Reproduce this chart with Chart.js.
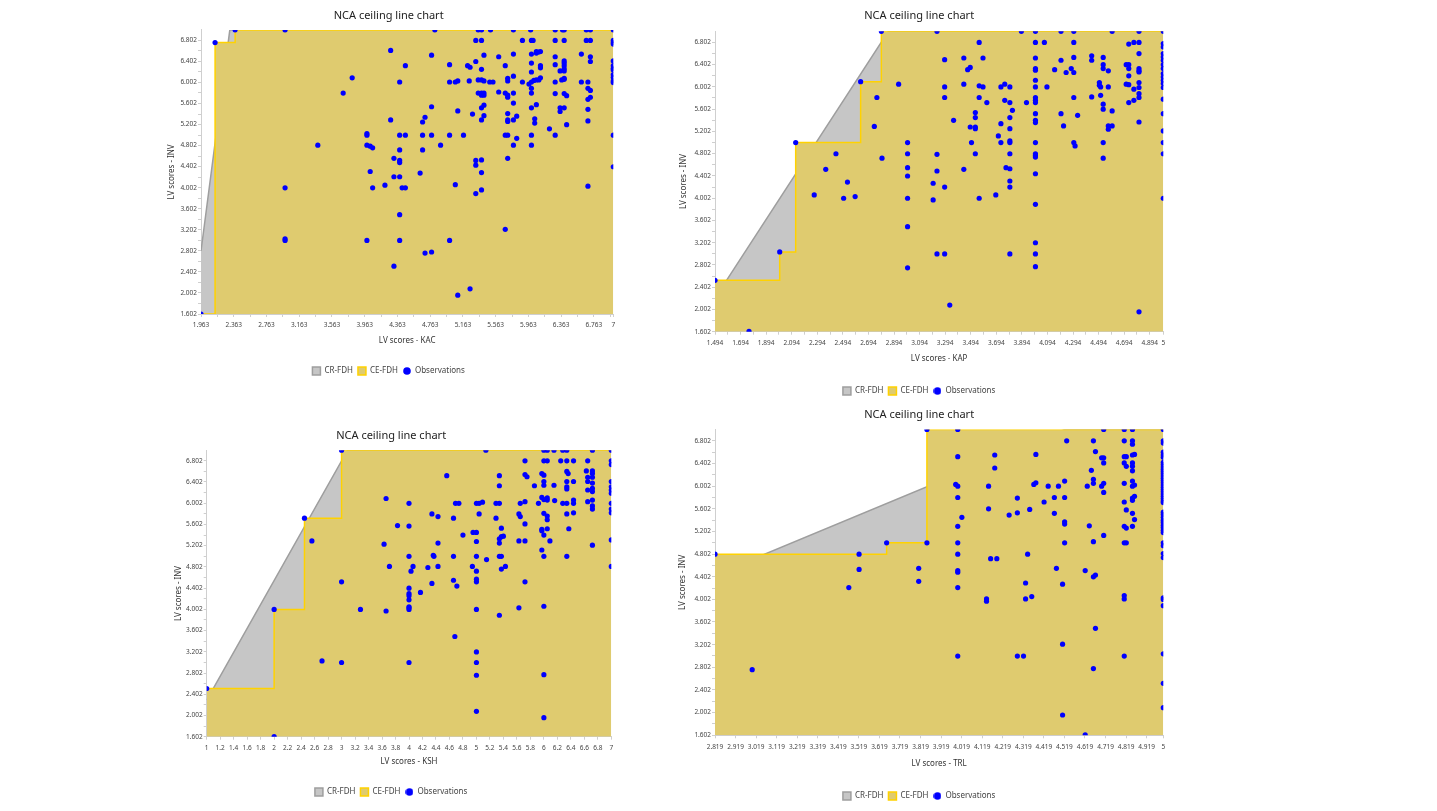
<!DOCTYPE html>
<html>
<head>
<meta charset="utf-8">
<script src="https://cdn.jsdelivr.net/npm/chart.js@4.4.0/dist/chart.umd.min.js"></script>
<style>
  html, body { margin: 0; padding: 0; background: #fff; width: 1437px; height: 811px; overflow: hidden; }
  .panel { position: absolute; }
</style>
</head>
<body>
<div class="panel" style="left:164px;top:0px;width:456px;height:385px"><canvas id="kacChart"></canvas></div>
<div class="panel" style="left:675px;top:0px;width:495px;height:405px"><canvas id="kapChart"></canvas></div>
<div class="panel" style="left:171px;top:420px;width:447px;height:386px"><canvas id="kshChart"></canvas></div>
<div class="panel" style="left:675px;top:400px;width:495px;height:410px"><canvas id="trlChart"></canvas></div>
<script>
// y axis ticks, shared by all four charts
const invTicks = [1.602, 2.002, 2.402, 2.802, 3.202, 3.602, 4.002, 4.402, 4.802, 5.202, 5.602, 6.002, 6.402, 6.802];

// ---- KAC ----
const kacTicks = [1.963, 2.363, 2.763, 3.163, 3.563, 3.963, 4.363, 4.763, 5.163, 5.563, 5.963, 6.363, 6.763, 7];
const kacCrX = [1.963, 2.315, 7];
const kacCrY = [2.80, 7, 7];
const kacCeX = [1.963, 2.135, 2.38, 7];
const kacCeY = [1.602, 6.76, 7, 7];
const kacObs = [
  [2.38,7],[2.99,7],[4.82,7],[5.35,7],[5.39,7],[5.5,7],[5.78,7],[5.99,7],[6.29,7],[6.38,7],[6.4,7],[6.67,7],[6.72,7],[7,7],
  [2.135,6.76],[5.32,6.8],[5.39,6.8],[5.89,6.8],[6,6.8],[6.02,6.8],[6.29,6.8],[6.4,6.8],[6.67,6.8],[6.72,6.8],[7,6.8],[7,6.73],[7,6.76],
  [4.28,6.61],[4.78,6.52],[5.42,6.52],[5.6,6.49],[5.78,6.54],[6,6.54],[6.06,6.59],[6.09,6.58],[6.11,6.59],[6.06,6.56],[6.29,6.49],[6.61,6.54],[6.72,6.49],
  [5.32,6.4],[5.68,6.32],[6,6.37],[6.11,6.32],[6.11,6.28],[6.29,6.34],[6.4,6.41],[6.4,6.37],[6.4,6.32],[6.72,6.4],[5,6.34],[5.22,6.32],[5.25,6.29],[5.39,6.25],[4.46,6.32],[7,6.41],[7,6.32],[7,6.27],[7,6.24],[6.35,6.22],[6.4,6.22],[6.4,6.26],[5.78,6.12],[6,6.2],
  [3.81,6.09],[4.39,6.01],[5,6.01],[5.07,6.01],[5.1,6.03],[5.24,6.03],[5.35,6.05],[5.39,6.05],[5.42,6.03],[5.49,6.01],[5.53,6.01],[5.71,6.08],[5.71,6.03],[5.89,6.01],[5.97,5.97],[6,6.01],[6.03,6.04],[6.06,6.05],[6.09,6.05],[6.11,6.09],[6.29,6.01],[6.37,6.05],[6.4,6.06],[6.4,6.08],[6.61,6.01],[6.69,6.01],[7,6.15],[7,6.1],[7,6.03],[7,6],
  [3.7,5.8],[5.35,5.8],[5.39,5.8],[5.42,5.8],[5.39,5.76],[5.42,5.76],[5.6,5.82],[5.68,5.8],[5.71,5.76],[5.71,5.72],[5.78,5.8],[6,5.89],[6,5.8],[6.29,5.79],[6.4,5.79],[6.43,5.75],[6.69,5.89],[6.72,5.85],[6.69,5.68],[6.72,5.72],
  [4.78,5.54],[5.39,5.52],[5.42,5.57],[5.78,5.61],[6,5.52],[6.06,5.58],[6.35,5.52],[6.4,5.52],[6.35,5.45],[6.69,5.49],[5.1,5.46],[5.28,5.4],[5.42,5.37],[5.39,5.29],[5.71,5.41],[5.71,5.29],[5.71,5.26],[5.82,5.36],[5.78,5.29],[6.04,5.31],[6.04,5.23],[4.28,5.29],[4.7,5.34],[4.67,5.25],[6.43,5.2],[6.69,5.27],[6.22,5.12],
  [3.99,5.03],[3.99,5],[4.39,5],[4.46,5],[4.67,5],[4.78,5],[5,5],[5.17,5],[5.68,5],[5.71,5],[5.82,4.94],[6,5],[6.29,5],[7,5],
  [3.39,4.81],[3.99,4.81],[4.03,4.79],[4.06,4.76],[4.39,4.72],[4.67,4.72],[4.89,4.81],[5.78,4.81],[6,4.81],
  [4.32,4.56],[4.39,4.52],[4.39,4.48],[5.32,4.52],[5.32,4.43],[5.39,4.53],[5.71,4.56],[7,4.4],
  [4.03,4.31],[4.32,4.21],[4.39,4.21],[4.64,4.28],[5.39,4.29],
  [2.99,4],[4.06,4],[4.21,4.05],[4.42,4],[4.46,4],[5.07,4.06],[5.32,3.89],[5.39,3.96],[6.69,4.03],
  [4.39,3.49],[5.68,3.21],[2.99,3.03],[2.99,3],[3.99,3],[4.39,3],[5,3],[4.7,2.76],[4.78,2.78],[4.32,2.51],[5.25,2.08],[5.1,1.96],[1.963,1.602]
];

// ---- KAP ----
const kapTicks = [1.494, 1.694, 1.894, 2.094, 2.294, 2.494, 2.694, 2.894, 3.094, 3.294, 3.494, 3.694, 3.894, 4.094, 4.294, 4.494, 4.694, 4.894, 5];
const kapCrX = [1.494, 2.85, 5];
const kapCrY = [2.205, 7, 7];
const kapCeX = [1.494, 2.0, 2.125, 2.633, 2.795, 5];
const kapCeY = [2.526, 3.036, 5.0, 6.094, 7, 7];
const kapObs = [
  [2.795,7],[3.23,7],[3.89,7],[4,7],[4.2,7],[4.3,7],[4.6,7],[4.81,7],[5,7],
  [3.56,6.8],[4,6.8],[4.07,6.8],[4.3,6.8],[4.73,6.77],[4.77,6.8],[4.81,6.8],[5,6.78],[5,6.72],
  [4.81,6.6],[5,6.6],[5,6.54],[5,6.48],[4.44,6.56],[4.44,6.48],[4.53,6.53],[4.3,6.53],[4,6.52],[3.59,6.52],[3.44,6.52],[3.29,6.49],[4.2,6.48],
  [4.53,6.4],[4.53,6.33],[4.57,6.29],[4.71,6.4],[4.73,6.4],[4.73,6.33],[4.81,6.33],[4.81,6.29],[4.81,6.27],[4.73,6.2],[5,6.4],[5,6.33],[5,6.24],[5,6.18],[5,6.12],[5,6.06],[5,5.99],[3.49,6.35],[3.47,6.31],[4,6.33],[4,6.3],[4.15,6.31],[4.24,6.26],[4.28,6.33],[4.3,6.26],[4,6.12],
  [2.633,6.094],[2.93,6.05],[3.44,6.05],[3.56,6.02],[3.59,6],[3.29,6],[3.73,6],[3.76,6.05],[3.8,6],[4,6],[4.09,6],[4.5,6.08],[4.5,6.03],[4.51,6],[4.57,6],[4.71,6.05],[4.73,6.04],[4.77,5.96],[4.81,6.08],[4.81,5.99],[4.81,5.88],[5,5.78],
  [2.76,5.81],[3.29,5.81],[3.56,5.81],[3.62,5.72],[3.76,5.76],[3.8,5.72],[3.93,5.72],[4,5.81],[4,5.76],[4,5.72],[4.3,5.81],[4.44,5.82],[4.51,5.85],[4.53,5.69],[4.53,5.6],[4.6,5.57],[4.73,5.72],[4.77,5.76],[4.81,5.81],
  [3.82,5.58],[3.53,5.54],[3.53,5.45],[3.8,5.45],[4,5.52],[4,5.4],[4,5.36],[4.2,5.52],[4.33,5.49],[5,5.52],
  [3.36,5.4],[3.73,5.34],[3.49,5.28],[3.53,5.28],[3.53,5.25],[3.8,5.25],[2.74,5.29],[4.22,5.3],[4.57,5.3],[4.57,5.24],[4.6,5.3],[4.81,5.37],[5,5.21],
  [3.71,5.12],[2.125,5],[3,5],[3.5,5],[3.73,5],[3.8,5.03],[3.8,5],[4,5],[4.3,5],[4.31,4.94],[4.53,5],[5,5],
  [2.44,4.8],[3,4.8],[3.23,4.79],[3.53,4.8],[3.8,4.8],[4,4.8],[4,4.77],[4,4.74],[4.53,4.72],[5,4.8],[2.8,4.72],
  [2.36,4.52],[3,4.55],[3,4.4],[3.23,4.49],[3.44,4.52],[3.77,4.55],[3.8,4.53],[4,4.44],
  [2.53,4.29],[3.2,4.27],[3.29,4.2],[3.8,4.31],[3.8,4.2],
  [2.27,4.06],[2.5,4],[2.59,4.03],[3,4],[3.2,3.97],[3.56,4],[3.69,4.06],[4,3.89],[5,4],
  [3,3.49],[4,3.2],[2,3.036],[3.23,3],[3.29,3],[3.8,3],[4,3],[3,2.75],[4,2.77],[1.494,2.526],[3.33,2.08],[4.81,1.96],[1.76,1.61]
];

// ---- KSH ----
const kshTicks = [1, 1.2, 1.4, 1.6, 1.8, 2, 2.2, 2.4, 2.6, 2.8, 3, 3.2, 3.4, 3.6, 3.8, 4, 4.2, 4.4, 4.6, 4.8, 5, 5.2, 5.4, 5.6, 5.8, 6, 6.2, 6.4, 6.6, 6.8, 7];
const kshCrX = [1, 3.09, 7];
const kshCrY = [2.29, 7, 7];
const kshCeX = [1, 2, 2.45, 3, 7];
const kshCeY = [2.51, 4.0, 5.72, 7, 7];
const kshObs = [
  [3,7],[5.14,7],[6,7],[6.05,7],[6.15,7],[6.28,7],[6.34,7],[6.72,7],[7,7],
  [5.72,6.8],[6,6.8],[6.05,6.8],[6.25,6.8],[6.34,6.8],[6.44,6.8],[6.65,6.8],[7,6.8],[7,6.73],
  [4.56,6.52],[5.34,6.52],[5.72,6.54],[5.75,6.5],[5.97,6.56],[6,6.53],[6.34,6.6],[6.36,6.56],[6.63,6.61],[6.72,6.61],[6.72,6.56],
  [5.34,6.33],[5.86,6.33],[6,6.41],[6,6.34],[6.15,6.34],[6.34,6.41],[6.44,6.41],[6.34,6.31],[6.34,6.27],[6.65,6.49],[6.65,6.41],[6.72,6.49],[6.72,6.38],[6.65,6.25],[6.72,6.28],[6.72,6.22],[7,6.41],[7,6.31],[7,6.25],[7,6.19],
  [3.66,6.09],[4,6],[4.69,6],[4.74,6],[5,6],[5.04,6],[5.09,6.02],[5.29,6],[5.34,6],[5.65,6],[5.72,6.03],[5.92,6],[5.97,6.11],[6,6.07],[6.05,6.1],[6.05,6.06],[6.16,6.05],[6.28,6],[6.34,6],[6.44,6.06],[6.44,6],[6.65,6.03],[6.72,6.06],[6.72,5.95],[6.72,5.89],[7,6],[7,5.89],[7,5.82],
  [2.45,5.72],[4.34,5.8],[4.43,5.75],[4.66,5.72],[5.04,5.8],[5.29,5.72],[5.63,5.8],[5.65,5.75],[5.72,5.61],[6,5.81],[6.05,5.76],[6.05,5.69],[6.34,5.8],[6.44,5.82],
  [3.83,5.58],[4,5.57],[5.37,5.53],[5.97,5.51],[6,5.4],[6.05,5.52],[6.37,5.52],
  [2.56,5.29],[3.63,5.23],[4.43,5.25],[4.8,5.4],[4.95,5.45],[5,5.45],[5,5.28],[5.34,5.33],[5.34,5.25],[5.37,5.37],[5.4,5.38],[5.63,5.29],[5.72,5.29],[5.97,5.48],[6.09,5.29],[6.72,5.21],[7,5.31],
  [4,5],[4.36,5.02],[4.37,5],[4.66,5],[5,5],[5.15,4.94],[5.34,5],[5.37,5],[5.97,5.12],[6,5],[6.34,5],
  [3.71,4.81],[4.03,4.72],[4.06,4.81],[4.28,4.79],[4.43,4.81],[4.94,4.81],[5,4.72],[5.37,4.76],[5.43,4.81],[7,4.81],
  [3,4.52],[4,4.4],[4,4.3],[4,4.26],[4.17,4.32],[4.34,4.49],[4.66,4.55],[4.71,4.44],[5,4.57],[5,4.52],[5.72,4.52],
  [4,4.18],[4,4.05],[4,4.03],[4,4],[2,4],[3.28,4],[3.66,3.97],[5,4],[5.34,3.89],[5.63,4.03],[6,4.06],
  [4.68,3.49],[5,3.2],[2.71,3.03],[3,3],[4,3],[5,3],[5,2.76],[6,2.77],[1,2.51],[5,2.08],[6,1.96],[2,1.602]
];

// ---- TRL ----
const trlTicks = [2.819, 2.919, 3.019, 3.119, 3.219, 3.319, 3.419, 3.519, 3.619, 3.719, 3.819, 3.919, 4.019, 4.119, 4.219, 4.319, 4.419, 4.519, 4.619, 4.719, 4.819, 4.919, 5];
const trlCrX = [2.819, 4.52, 5];
const trlCrY = [4.435, 7, 7];
const trlCeX = [2.819, 3.654, 3.85, 5];
const trlCeY = [4.8, 5.0, 7, 7];
const trlObs = [
  [3.85,7],[4,7],[4.71,7],[4.81,7],[4.85,7],[5,7],
  [4.53,6.8],[4.66,6.8],[4.81,6.8],[4.85,6.8],[4.85,6.74],
  [4,6.52],[4.18,6.55],[4.38,6.56],[4.67,6.61],[4.7,6.5],[4.71,6.5],[4.71,6.41],[4.81,6.52],[4.82,6.52],[4.85,6.55],[4.86,6.56],[4.81,6.41],[4.82,6.35],[4.85,6.41],[4.85,6.35],[4.85,6.27],
  [4.18,6.32],[4.65,6.28],[4.66,6.12],[4.71,6.05],[4.7,6],
  [3.99,6.03],[4,6],[4.15,6],[4.37,6.03],[4.38,6.06],[4.44,6],[4.49,6],[4.52,6.09],[4.63,6],[4.66,6.05],[4.81,6.05],[4.85,6.09],[4.85,6],[4.86,6.02],
  [4,5.8],[4.29,5.79],[4.42,5.72],[4.47,5.8],[4.52,5.8],[4.71,5.89],[4.81,5.72],[4.85,5.79],[4.85,5.75],[4.86,5.82],
  [4.15,5.6],[4.25,5.49],[4.29,5.53],[4.35,5.59],[4.47,5.52],[4.82,5.58],[4.85,5.52],[4.86,5.41],
  [4.02,5.45],[4,5.29],[4.52,5.37],[4.52,5.33],[4.64,5.3],[4.81,5.29],[4.82,5.26],[4.85,5.29],[4.71,5.13],
  [3.654,5],[3.85,5],[4,5],[4.52,5],[4.66,5.02],[4.81,5],[4.82,5],
  [2.819,4.8],[3.52,4.8],[4,4.8],[4.16,4.72],[4.19,4.72],[4.34,4.8],
  [3.52,4.53],[3.81,4.55],[4,4.51],[4,4.48],[4.48,4.55],[4.62,4.51],[4.66,4.4],[4.67,4.43],
  [3.81,4.32],[3.47,4.21],[4,4.21],[4.33,4.29],[4.51,4.27],
  [4.14,4.01],[4.14,3.97],[4.33,4.01],[4.36,4.05],[4.81,4.07],[4.81,4.01],
  [4.67,3.49],[4.51,3.21],[4,3],[4.29,3],[4.32,3],[4.81,3],[3,2.76],[4.66,2.78],[4.51,1.96],[4.62,1.61],
  [5,6.8],[5,6.76],[5,6.6],[5,6.55],[5,6.51],[5,6.42],[5,6.38],[5,6.34],[5,6.3],[5,6.26],[5,6.22],[5,6.18],[5,6.14],[5,6.1],[5,6.06],[5,6.02],[5,5.98],[5,5.94],[5,5.9],[5,5.86],[5,5.82],[5,5.78],[5,5.74],[5,5.71],
  [5,5.54],[5,5.5],[5,5.45],[5,5.4],[5,5.36],[5,5.31],[5,5.27],[5,5.22],[5,5.18],[5,5],[5,4.95],[5,4.81],[5,4.74],[5,4.03],[5,4],[5,3.89],[5,3.04],[5,2.52],[5,2.09]
];

Chart.defaults.font.family = '"Noto Sans", "Open Sans", sans-serif';

function toPoints(xs, ys) {
  return xs.map((x, i) => ({ x: x, y: ys[i] }));
}

// unlabeled tick marks halfway between labelled ones
function halfSteps(major, max) {
  const step = major[1] - major[0];
  const out = [];
  for (let i = 0; i < major.length - 1; i++) {
    const v = +(major[i] + step / 2).toFixed(3);
    if (v < max - 0.02) out.push(v);
  }
  return out;
}

// small blue dot for the legend (the default point-style circle is too big)
const legendDot = document.createElement('canvas');
legendDot.width = 8;
legendDot.height = 8;
(function () {
  const c = legendDot.getContext('2d');
  c.fillStyle = '#0000ff';
  c.beginPath();
  c.arc(4, 4, 3.8, 0, Math.PI * 2);
  c.fill();
})();

function legendItems(chart) {
  const items = Chart.defaults.plugins.legend.labels.generateLabels(chart);
  items.forEach(it => { if (it.text === 'Observations') it.pointStyle = legendDot; });
  return items;
}

function drawPanel(canvasId, p) {
  const xMajor = new Set(p.xTicks);
  const yMajor = new Set(invTicks);
  const xAll = p.xTicks.concat(p.xMinor ? halfSteps(p.xTicks, p.xMax) : []).sort((a, b) => a - b);
  const yAll = invTicks.concat(halfSteps(invTicks, 7)).sort((a, b) => a - b);
  const axisGrey = '#cfcfcf';

  new Chart(document.getElementById(canvasId), {
    type: 'scatter',
    data: {
      datasets: [
        {
          type: 'line', label: 'CR-FDH', data: toPoints(p.crX, p.crY),
          borderColor: '#9e9e9e', backgroundColor: '#c6c6c6', borderWidth: 1.5,
          fill: 'start', pointRadius: 0, pointStyle: 'rect', order: 3
        },
        {
          type: 'line', label: 'CE-FDH', data: toPoints(p.ceX, p.ceY), stepped: 'before',
          borderColor: '#ffd200', backgroundColor: '#dfcb6f', borderWidth: 1.5,
          fill: 'start', pointRadius: 0, pointStyle: 'rect', order: 2
        },
        {
          type: 'scatter', label: 'Observations', data: p.obs.map(([x, y]) => ({ x, y })),
          backgroundColor: '#0000ff', borderColor: '#0000ff', borderWidth: 0,
          pointRadius: 2.6, pointStyle: 'circle', order: 1
        }
      ]
    },
    options: {
      responsive: true,
      maintainAspectRatio: false,
      animation: false,
      events: [],
      layout: { padding: { left: 0, right: 6.7, top: 0, bottom: 0 } },
      plugins: {
        title: {
          display: true, text: 'NCA ceiling line chart', color: '#222',
          font: { size: 11, weight: 'normal' },
          padding: { top: p.titleTop, bottom: p.titleBottom }
        },
        legend: {
          position: 'bottom',
          labels: {
            usePointStyle: true, boxHeight: 8, padding: 5, color: '#444',
            font: { size: 8 },
            generateLabels: legendItems,
            sort: (a, b) => a.datasetIndex - b.datasetIndex
          }
        },
        tooltip: { enabled: false }
      },
      scales: {
        x: {
          type: 'linear', min: p.xMin, max: p.xMax,
          afterBuildTicks: (s) => { s.ticks = xAll.map(v => ({ value: v })); },
          afterFit: (s) => { s.height = p.xHeight; },
          ticks: {
            autoSkip: false, maxRotation: 0, minRotation: 0, padding: 4.6,
            color: '#444', font: { size: 6.5 },
            callback: (v) => xMajor.has(v) ? String(v) : ''
          },
          grid: { drawOnChartArea: false, drawTicks: true, tickLength: 3, color: axisGrey },
          border: { display: true, color: axisGrey },
          title: {
            display: true, text: p.xTitle, color: '#333', font: { size: 8 },
            padding: { top: 0, bottom: p.xTitlePad }
          }
        },
        y: {
          type: 'linear', min: 1.602, max: 7,
          afterBuildTicks: (s) => { s.ticks = yAll.map(v => ({ value: v })); },
          afterFit: (s) => { s.width = p.yWidth; },
          ticks: {
            autoSkip: false, padding: 1, color: '#444', font: { size: 6.5 },
            callback: (v) => yMajor.has(v) ? String(v) : ''
          },
          grid: { drawOnChartArea: false, drawTicks: true, tickLength: 3, color: axisGrey },
          border: { display: true, color: axisGrey },
          title: {
            display: true, text: 'LV scores - INV', color: '#333', font: { size: 8 },
            padding: { top: p.yTitlePad, bottom: 0 }
          }
        }
      }
    }
  });
}

drawPanel('kacChart', {
  xTitle: 'LV scores - KAC', xMin: 1.963, xMax: 7, xTicks: kacTicks, xMinor: true,
  crX: kacCrX, crY: kacCrY, ceX: kacCeX, ceY: kacCeY, obs: kacObs,
  yWidth: 37, yTitlePad: 3.2, xHeight: 48, xTitlePad: 16.2, titleTop: 9.4, titleBottom: 7.3
});
drawPanel('kapChart', {
  xTitle: 'LV scores - KAP', xMin: 1.494, xMax: 5, xTicks: kapTicks, xMinor: true,
  crX: kapCrX, crY: kapCrY, ceX: kapCeX, ceY: kapCeY, obs: kapObs,
  yWidth: 40, yTitlePad: 3.7, xHeight: 50.3, xTitlePad: 18.2, titleTop: 9.4, titleBottom: 8.7
});
drawPanel('kshChart', {
  xTitle: 'LV scores - KSH', xMin: 1, xMax: 7, xTicks: kshTicks, xMinor: false,
  crX: kshCrX, crY: kshCrY, ceX: kshCeX, ceY: kshCeY, obs: kshObs,
  yWidth: 35.7, yTitlePad: 2.5, xHeight: 46.3, xTitlePad: 16.5, titleTop: 9.4, titleBottom: 7.6
});
drawPanel('trlChart', {
  xTitle: 'LV scores - TRL', xMin: 2.819, xMax: 5, xTicks: trlTicks, xMinor: false,
  crX: trlCrX, crY: trlCrY, ceX: trlCeX, ceY: trlCeY, obs: trlObs,
  yWidth: 40, yTitlePad: 2.5, xHeight: 51.7, xTitlePad: 18.9, titleTop: 8.4, titleBottom: 7.9
});
</script>
</body>
</html>
